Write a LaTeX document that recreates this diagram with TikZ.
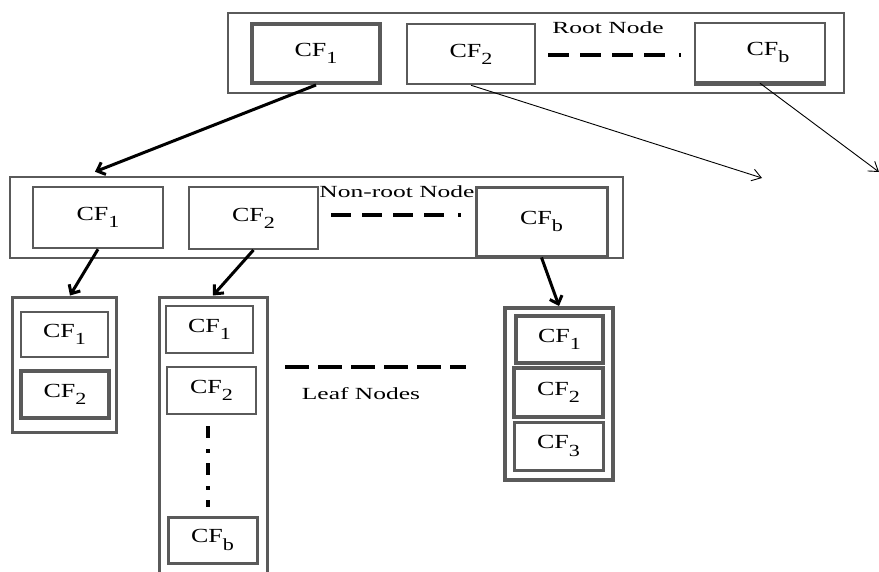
\documentclass[tikz,border=0pt]{standalone}
\usepackage{fontspec}
\setmainfont{Liberation Serif}
\usetikzlibrary{arrows.meta,calc}
\definecolor{bx}{RGB}{90,90,90}
\newcommand\cfs[1]{\scalebox{1.3}[1]{\fontsize{20}{20}\selectfont CF\raisebox{-0.36em}{\fontsize{17}{17}\selectfont #1}}}
\newcommand\lbl[1]{\scalebox{1.5}[1]{\fontsize{17}{17}\selectfont #1}}
\begin{document}
\begin{tikzpicture}[x=1pt,y=-1pt,
  box/.style={draw=bx, fill=white, inner sep=0pt, line width=#1},
  box/.default=2.5pt,
  thk/.style={line width=3pt, -{Straight Barb[length=7pt,width=13pt]}},
  thn/.style={line width=0.9pt, -{Straight Barb[length=9pt,width=12pt]}},
  dsh/.style={line width=4pt}]
\clip (0,0) rectangle (879,571);
\fill[white] (0,0) rectangle (879,571);
% root node
\node[box=2.5pt, minimum width=616pt, minimum height=80pt] (Rout) at (536,53) {};
\node[box=4pt, minimum width=128pt, minimum height=59pt] (R1) at (316,53.5) {\cfs{1}};
\node[box=2.5pt, minimum width=128pt, minimum height=60pt] (R2) at (471,54) {\cfs{2}};
\node[box=2.5pt, minimum width=130pt, minimum height=59pt] (Rb) at (760,52.5) {\hspace*{16pt}\cfs{b}};
\draw[bx, line width=4.5pt] (Rb.south west) -- (Rb.south east);
\node (rootlbl) at (608,28) {\lbl{Root Node}};
\draw[dsh, dash pattern=on 21pt off 11pt on 21pt off 11pt on 21pt off 11pt on 21pt off 14pt on 3pt off 100pt,
  shorten <=12pt, shorten >=13pt] ($(R2.east)+(0,1)$) -- ($(R2.east -| Rb.west)+(0,1)$);
% non-root node
\node[box=2.5pt, minimum width=613pt, minimum height=81pt] (Nout) at (316.5,217.5) {};
\node[box=2.5pt, minimum width=130pt, minimum height=61pt] (N1) at (98,217.5) {\cfs{1}};
\node[box=2pt, minimum width=129pt, minimum height=62pt] (N2) at (253.5,218) {\cfs{2}};
\node[box=3pt, minimum width=131pt, minimum height=69pt] (Nb) at (541.5,221.5) {\cfs{b}};
\node (nrlbl) at (397,192) {\lbl{Non-root Node}};
\draw[dsh, dash pattern=on 20pt off 11pt on 20pt off 11pt on 20pt off 11pt on 20pt off 14pt on 3pt off 100pt,
  shorten <=12pt, shorten >=13pt] ($(N2.east)+(0,-3)$) -- ($(N2.east -| Nb.west)+(0,-3)$);
% leaf 1
\node[box=3pt, minimum width=104pt, minimum height=135pt] (L1) at (64,364.5) {};
\node[box=2.5pt, minimum width=87pt, minimum height=45pt] (L1a) at (64.5,334.5) {\cfs{1}};
\node[box=3.5pt, minimum width=88pt, minimum height=47pt] (L1b) at (65,394.5) {\cfs{2}};
% leaf 2
\node[box=3pt, minimum width=108pt, minimum height=303pt] (L2) at (213,448.5) {};
\node[box=2.5pt, minimum width=87pt, minimum height=47pt] (L2a) at (209.5,329.5) {\cfs{1}};
\node[box=2pt, minimum width=89pt, minimum height=47pt] (L2b) at (211.5,390.5) {\cfs{2}};
\node[box=3pt, minimum width=89pt, minimum height=46pt] (L2c) at (212.5,540) {\cfs{b}};
\draw[line width=3.5pt, dash pattern=on 12pt off 11pt on 4pt off 10pt, shorten <=11pt, shorten >=9pt]
  ($(L2b.south)+(-3.5,0)$) -- ($(L2b.south |- L2c.north)+(-3.5,0)$);
% leaf 3
\node[box=4pt, minimum width=108pt, minimum height=172pt] (L3) at (559,394) {};
\node[box=4pt, minimum width=87pt, minimum height=47pt] (L3a) at (559.5,339.5) {\cfs{1}};
\node[box=3.5pt, minimum width=89pt, minimum height=49pt] (L3b) at (558.5,392.5) {\cfs{2}};
\node[box=3pt, minimum width=89pt, minimum height=48pt] (L3c) at (558.5,446) {\cfs{3}};
% leaf label
\draw[line width=3.5pt, dash pattern=on 24pt off 9pt] (285,367) -- (466,367);
\node (leaflbl) at (361,394) {\lbl{Leaf Nodes}};
% arrows
\coordinate (e1) at (762,178);
\coordinate (e2) at (879,172);
\draw[thk] (R1.south) -- ($(N1.north |- Nout.north)+(-3,-4)$);
\draw[thk] (N1.south) -- ($(L1.north)+(6,0)$);
\draw[thk] (N2.south) -- (L2.north);
\draw[thk] (Nb.south) -- (L3.north);
\draw[thn] (R2.south) -- (e1);
\draw[thn] (Rb.south) -- (e2);
\end{tikzpicture}
\end{document}
